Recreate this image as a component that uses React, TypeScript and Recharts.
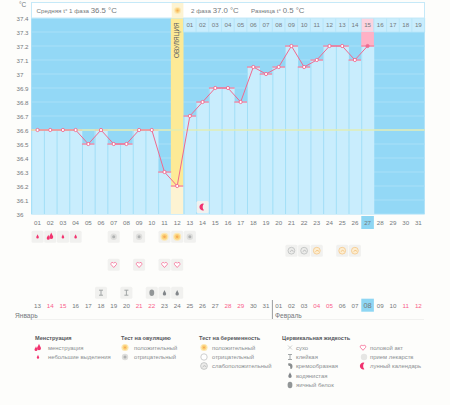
import React from "react";
import {
  ComposedChart,
  Bar,
  Line,
  XAxis,
  YAxis,
  CartesianGrid,
  ReferenceArea,
  ReferenceLine,
  ReferenceDot,
  Scatter,
} from "recharts";

const days = Array.from({ length: 31 }, (_, i) => i + 1);
const temperatures = [
  36.6, 36.6, 36.6, 36.6, 36.5, 36.6, 36.5, 36.5, 36.6, 36.6, 36.3, 36.2, 36.7, 36.8, 36.9, 36.9,
  36.8, 37.05, 37.0, 37.05, 37.2, 37.05, 37.1, 37.2, 37.2, 37.1, 37.2, null, null, null, null,
];
const tempTicks = [36, 36.1, 36.2, 36.3, 36.4, 36.5, 36.6, 36.7, 36.8, 36.9, 37, 37.1, 37.2, 37.3, 37.4];
const calendarLabels = [
  "13", "14", "15", "16", "17", "18", "19", "20", "21", "22", "23", "24", "25", "26", "27", "28", "29", "30", "31",
  "01", "02", "03", "04", "05", "06", "07", "08", "09", "10", "11", "12",
];
const weekendLabels = ["14", "15", "21", "22", "28", "29", "04", "05", "11", "12"];
const phaseLabels = [
  "01", "02", "03", "04", "05", "06", "07", "08", "09", "10", "11", "12", "13", "14", "15", "16", "17", "18", "19",
];
const PHASE_START = 13;
const OVULATION_DAY = 12;
const TODAY = 27;
const AVERAGE_LINE = 36.6;

// symptom rows: row index in the strip under the chart
const menstruationDays = [1, 3, 4];
const heavyMenstruationDays = [2];
const ovulationNegative = [7, 9, 13];
const ovulationPositive = [11, 12];
const pregnancyWeak = [21, 22];
const pregnancyPositive = [23, 25, 26];
const sexDays = [7, 9, 11, 12];
const stickyDays = [6, 8];
const eggWhiteDays = [10];
const wateryDays = [11, 12];

const chartData = days.map((day, i) => ({ day, temp: temperatures[i] }));
const toPoints = (list: number[], row: number) => list.map((day) => ({ day, row }));

const FONT = "'Liberation Sans', Arial, sans-serif";
const PINK = "#f0698f";
const GREY = "#74797c";

const Tile = ({ cx, cy }: any) => <rect x={cx - 6} y={cy - 6} width={12} height={12} rx={1.5} fill="#f1f1ef" />;

const Drop = ({ cx, cy, color = "#f2336f", r = 1.3 }: any) => (
  <path
    d={`M${cx} ${cy - r * 1.9} C${cx + r * 0.4} ${cy - r * 0.7} ${cx + r} ${cy - r * 0.2} ${cx + r} ${cy + r * 0.4} A${r} ${r} 0 1 1 ${cx - r} ${cy + r * 0.4} C${cx - r} ${cy - r * 0.2} ${cx - r * 0.4} ${cy - r * 0.7} ${cx} ${cy - r * 1.9} Z`}
    fill={color}
  />
);
const HeavyDrop = ({ cx, cy }: any) => (
  <g>
    <Drop cx={cx + 1} cy={cy - 0.5} r={2} />
    <Drop cx={cx - 2} cy={cy + 1} r={1.5} />
  </g>
);
const Sun = ({ cx, cy, r = 2.8 }: any) => (
  <g>
    <circle cx={cx} cy={cy} r={r + 1.2} fill="#fde8b2" />
    <circle cx={cx} cy={cy} r={r} fill="#fbd17a" />
    <circle cx={cx} cy={cy} r={r * 0.45} fill="#f5ab55" />
  </g>
);
const GreySun = ({ cx, cy }: any) => (
  <g>
    <circle cx={cx} cy={cy} r={3.2} fill="#dededc" />
    <circle cx={cx} cy={cy} r={1.5} fill="#b0b2b2" />
  </g>
);
const Heart = ({ cx, cy }: any) => (
  <path
    d={`M${cx} ${cy + 2.8} L${cx - 2.7} ${cy - 0.2} A1.45 1.45 0 0 1 ${cx} ${cy - 1.4} A1.45 1.45 0 0 1 ${cx + 2.7} ${cy - 0.2} Z`}
    fill="#fff"
    stroke="#f6799e"
    strokeWidth={0.9}
  />
);
const Sticky = ({ cx, cy }: any) => (
  <path d={`M${cx - 2} ${cy - 2.5}H${cx + 2}M${cx} ${cy - 2.5}V${cy + 2.5}M${cx - 2} ${cy + 2.5}H${cx + 2}`} stroke="#9a9e9f" strokeWidth={0.9} fill="none" />
);
const EggWhite = ({ cx, cy }: any) => <ellipse cx={cx} cy={cy} rx={2.4} ry={3.2} fill="#929697" />;
const Watery = ({ cx, cy }: any) => <Drop cx={cx} cy={cy + 0.5} color="#82868a" r={1.7} />;
const Pregnancy = ({ cx, cy, color = "#b5b7b7", fill = "#ececea" }: any) => (
  <g>
    <circle cx={cx} cy={cy} r={3.4} fill={fill} stroke={color} strokeWidth={0.7} />
    <path d={`M${cx - 1.4} ${cy + 1}Q${cx} ${cy - 1.6} ${cx + 2.2} ${cy + 0.6}`} stroke={color} strokeWidth={0.9} fill="none" />
  </g>
);
const Moon = ({ cx, cy }: any) => (
  <path
    d={`M${cx + 1.4} ${cy - 3.2} A3.4 3.4 0 1 0 ${cx + 1.4} ${cy + 3.2} A4.6 4.6 0 0 1 ${cx + 1.4} ${cy - 3.2} Z`}
    fill="#f0326f"
  />
);

const withTile = (Icon: any) => (props: any) => (
  <g>
    <Tile cx={props.cx} cy={props.cy} />
    <Icon cx={props.cx} cy={props.cy} />
  </g>
);

const TempBar = (props: any) => {
  const { x, y, width, height, payload } = props;
  const isOvulation = payload.day === OVULATION_DAY;
  return (
    <g>
      <rect x={x} y={y} width={width} height={height} fill={isOvulation ? "#fdf3d2" : "#c9edfd"} />
      {!isOvulation && <rect x={x} y={y} width={1} height={height} fill="#a3dff7" />}
      <rect x={x} y={y - 0.6} width={width} height={1.3} fill="#f5829f" />
    </g>
  );
};

const TempDot = (props: any) => {
  const { cx, cy, payload } = props;
  if (payload.temp == null) return null;
  return <circle cx={cx} cy={cy} r={1.6} fill={payload.day === TODAY ? PINK : "#fff"} stroke={PINK} strokeWidth={0.9} />;
};

const DayTick = ({ x, y, payload }: any) => {
  const isToday = payload.value === TODAY;
  return (
    <g>
      {isToday && <rect x={x - 6.3} y={y + 2} width={12.6} height={13} fill="#8ed6f3" />}
      <text x={x} y={y + 10.5} textAnchor="middle" fontSize={6.2} fontFamily={FONT} fill={GREY}>
        {String(payload.value).padStart(2, "0")}
      </text>
    </g>
  );
};

const CalendarTick = ({ x, y, payload }: any) => {
  const label = calendarLabels[payload.value - 1];
  if (!label) return null;
  const isToday = payload.value === TODAY;
  const red = weekendLabels.includes(label);
  return (
    <g>
      {isToday && <rect x={x - 6.3} y={y - 1} width={12.6} height={13} fill="#8ed6f3" />}
      <text
        x={x}
        y={y + 8}
        textAnchor="middle"
        fontSize={isToday ? 7.4 : 6.2}
        fontFamily={FONT}
        fill={red ? "#f9608a" : GREY}
      >
        {label}
      </text>
    </g>
  );
};

const TempTick = ({ y, payload }: any) => (
  <text x={16.5} y={y + 3} textAnchor="start" fontSize={6.2} fontFamily={FONT} fill={GREY}>
    {payload.value}
  </text>
);

const Txt = ({ x, y, size = 5.9, weight = 400, fill = "#8b8f92", children }: any) => (
  <text x={x} y={y} fontSize={size} fontWeight={weight} fill={fill} fontFamily={FONT}>
    {children}
  </text>
);
const Title = ({ x, children }: any) => (
  <Txt x={x} y={340} size={5.6} weight={700} fill="#55585b">
    {children}
  </Txt>
);

const Overlay = () => (
  <svg width={450} height={405} style={{ position: "absolute", left: 0, top: 0, pointerEvents: "none" }}>
    <text x={19} y={7} fontSize={6.5} fontFamily={FONT} fill={GREY}>°C</text>
    <rect x={31.5} y={2.5} width={393} height={15.5} fill="#fff" stroke="#c6e9f8" />
    <rect x={171.7} y={3} width={11.7} height={15} fill="#fdf3d2" />
    <Sun cx={177.5} cy={10.5} r={2.4} />
    <text x={36.5} y={12.8} fontSize={6.2} fontFamily={FONT} fill={GREY}>
      Средняя t° 1 фаза <tspan fontSize={7.8}>36.5 °C</tspan>
    </text>
    <text x={191} y={12.8} fontSize={6.2} fontFamily={FONT} fill={GREY}>
      2 фаза <tspan fontSize={7.8}>37.0 °C</tspan>
    </text>
    <text x={251} y={12.8} fontSize={6.2} fontFamily={FONT} fill={GREY}>
      Разница t° <tspan fontSize={7.8}>0.5 °C</tspan>
    </text>
    <text
      transform="translate(179.4 58) rotate(-90)"
      fontSize={6.4}
      fontFamily={FONT}
      fill="#5f6264"
    >
      ОВУЛЯЦИЯ
    </text>

    <line x1={272.4} y1={300} x2={272.4} y2={319} stroke="#9a9c9e" />
    <line x1={32} y1={319.5} x2={424} y2={319.5} stroke="#f1f1ef" />
    <Txt x={15} y={318} size={6.6} fill={GREY}>Январь</Txt>
    <Txt x={275} y={318} size={6.6} fill={GREY}>Февраль</Txt>

    <Title x={35}>Менструация</Title>
    <HeavyDrop cx={38} cy={348} />
    <Txt x={48} y={350}>менструация</Txt>
    <Drop cx={38} cy={357} r={1.2} />
    <Txt x={48} y={359}>небольшие выделения</Txt>

    <Title x={121}>Тест на овуляцию</Title>
    <Sun cx={125} cy={347.5} r={2.4} />
    <Txt x={134} y={350}>положительный</Txt>
    <GreySun cx={125} cy={357} />
    <Txt x={134} y={359}>отрицательный</Txt>

    <Title x={199}>Тест на беременность</Title>
    <Sun cx={204} cy={347.5} r={2.4} />
    <Txt x={212} y={350}>положительный</Txt>
    <circle cx={204} cy={357} r={3.2} fill="#fff" stroke="#cfd0d0" />
    <Txt x={212} y={359}>отрицательный</Txt>
    <Pregnancy cx={204} cy={366} />
    <Txt x={212} y={368}>слабоположительный</Txt>

    <Title x={282}>Цервикальная жидкость</Title>
    <path d="M288 345.5L292 349.5M292 345.5L288 349.5" stroke="#b9bbbb" strokeWidth={0.7} />
    <Txt x={296} y={350}>сухо</Txt>
    <Sticky cx={290} cy={357} />
    <Txt x={296} y={359}>клейкая</Txt>
    <path d="M288 363.5Q292 362.5 292.5 366Q292.5 369.5 290.5 369L290 366Q288 366.5 288 363.5Z" fill="#8a8e8f" />
    <Txt x={296} y={368}>кремообразная</Txt>
    <Watery cx={290} cy={375} />
    <Txt x={296} y={377.5}>водянистая</Txt>
    <EggWhite cx={290} cy={385} />
    <Txt x={296} y={387}>яичный белок</Txt>

    <Heart cx={363} cy={347.5} />
    <Txt x={370} y={350}>половой акт</Txt>
    <circle cx={364} cy={357} r={3.2} fill="#e6e6e4" />
    <Txt x={370} y={359}>прием лекарств</Txt>
    <Moon cx={363} cy={366} />
    <Txt x={370} y={368}>лунный календарь</Txt>
  </svg>
);

export default function App() {
  return (
    <div style={{ position: "absolute", left: 0, top: 0, width: 450, height: 405, background: "#fdfdfb", overflow: "hidden" }}>
      <div style={{ position: "absolute", left: 0, top: 0 }}>
        <ComposedChart
          width={450}
          height={405}
          data={chartData}
          barCategoryGap={0}
          barGap={0}
          margin={{ top: 18, right: 25.3, bottom: 171, left: 0 }}
        >
          <CartesianGrid horizontal vertical={false} stroke="#a9e0f8" strokeWidth={1} fill="#93d8f6" />
          <XAxis
            dataKey="day"
            type="category"
            interval={0}
            axisLine={false}
            tickLine={false}
            tickSize={0}
            tickMargin={0}
            height={20}
            tick={<DayTick />}
          />
          <YAxis
            domain={[36, 37.4]}
            ticks={tempTicks}
            interval={0}
            width={31.2}
            axisLine={false}
            tickLine={false}
            tick={<TempTick />}
          />
          <ReferenceArea x1={OVULATION_DAY} x2={OVULATION_DAY} y1={36.2} y2={37.4} fill="#fdea96" fillOpacity={1} stroke="none" />
          {phaseLabels.map((label, i) => (
            <ReferenceArea
              key={label}
              x1={PHASE_START + i}
              x2={PHASE_START + i}
              y1={37.3}
              y2={37.4}
              fill={PHASE_START + i === TODAY ? "#fcd3df" : "#c9edfd"}
              fillOpacity={1}
              stroke="#b3e4f9"
              strokeWidth={0.6}
              label={{ value: label, position: "center", fontSize: 6.2, fill: GREY, fontFamily: FONT }}
            />
          ))}
          <ReferenceArea x1={TODAY} x2={TODAY} y1={37.2} y2={37.3} fill="#ffb1c6" fillOpacity={1} stroke="none" />
          <Bar dataKey="temp" shape={<TempBar />} isAnimationActive={false} />
          <ReferenceLine y={AVERAGE_LINE} stroke="#e0ecb4" strokeWidth={1.5} />
          <ReferenceDot x={14} y={36.05} r={6} shape={withTile(Moon)} />
          <Line
            dataKey="temp"
            stroke={PINK}
            strokeWidth={1}
            dot={<TempDot />}
            activeDot={false}
            connectNulls={false}
            isAnimationActive={false}
          />
        </ComposedChart>
      </div>
      <div style={{ position: "absolute", left: 0, top: 0 }}>
        <ComposedChart width={450} height={405} margin={{ top: 229.7, right: 25.3, bottom: 85.3, left: 31.2 }}>
          <XAxis
            dataKey="day"
            type="number"
            domain={[0.5, 31.5]}
            ticks={days}
            interval={0}
            axisLine={false}
            tickLine={false}
            tickSize={0}
            tickMargin={0}
            height={20}
            tick={<CalendarTick />}
          />
          <YAxis dataKey="row" type="number" domain={[-0.5, 4.5]} reversed hide />
          <Scatter data={toPoints(menstruationDays, 0)} dataKey="row" shape={withTile(Drop)} isAnimationActive={false} />
          <Scatter data={toPoints(heavyMenstruationDays, 0)} dataKey="row" shape={withTile(HeavyDrop)} isAnimationActive={false} />
          <Scatter data={toPoints(ovulationNegative, 0)} dataKey="row" shape={withTile(GreySun)} isAnimationActive={false} />
          <Scatter data={toPoints(ovulationPositive, 0)} dataKey="row" shape={withTile(Sun)} isAnimationActive={false} />
          <Scatter data={toPoints(pregnancyWeak, 1)} dataKey="row" shape={withTile(Pregnancy)} isAnimationActive={false} />
          <Scatter
            data={toPoints(pregnancyPositive, 1)}
            dataKey="row"
            shape={withTile((p: any) => <Pregnancy {...p} color="#f3c27c" fill="#fdeed2" />)}
            isAnimationActive={false}
          />
          <Scatter data={toPoints(sexDays, 2)} dataKey="row" shape={withTile(Heart)} isAnimationActive={false} />
          <Scatter data={toPoints(stickyDays, 4)} dataKey="row" shape={withTile(Sticky)} isAnimationActive={false} />
          <Scatter data={toPoints(eggWhiteDays, 4)} dataKey="row" shape={withTile(EggWhite)} isAnimationActive={false} />
          <Scatter data={toPoints(wateryDays, 4)} dataKey="row" shape={withTile(Watery)} isAnimationActive={false} />
        </ComposedChart>
      </div>
      <Overlay />
    </div>
  );
}
